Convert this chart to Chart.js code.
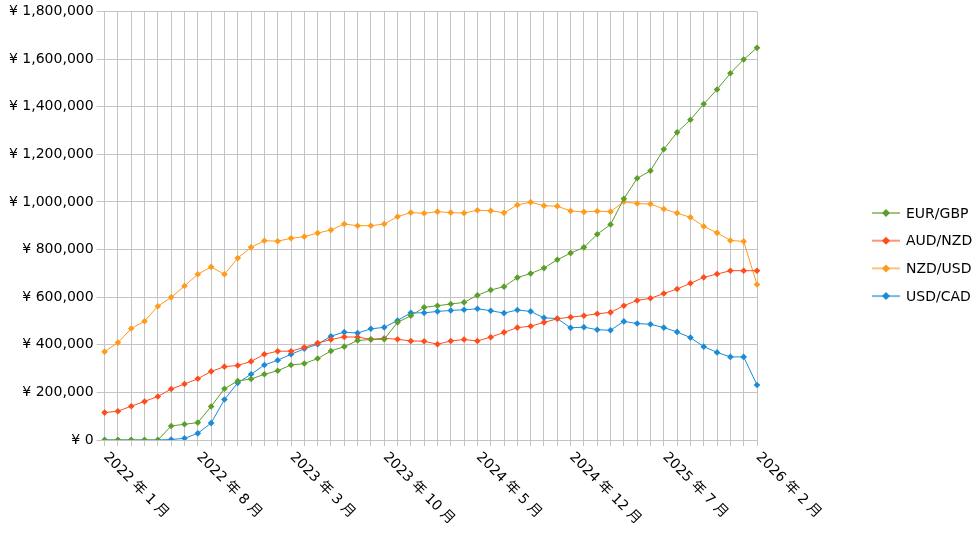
<!DOCTYPE html>
<html>
<head>
<meta charset="utf-8">
<script src="https://cdn.jsdelivr.net/npm/chart.js@4"></script>
<style>
  html, body { margin: 0; padding: 0; background: #fff; }
  #wrap { width: 980px; height: 535px; }
</style>
</head>
<body>
<div id="wrap"><canvas id="chart" width="980" height="535"></canvas></div>
<script>
// Chart data
const months = [
  "2022 年 1 月", "2022 年 2 月", "2022 年 3 月", "2022 年 4 月", "2022 年 5 月", "2022 年 6 月",
  "2022 年 7 月", "2022 年 8 月", "2022 年 9 月", "2022 年 10 月", "2022 年 11 月", "2022 年 12 月",
  "2023 年 1 月", "2023 年 2 月", "2023 年 3 月", "2023 年 4 月", "2023 年 5 月", "2023 年 6 月",
  "2023 年 7 月", "2023 年 8 月", "2023 年 9 月", "2023 年 10 月", "2023 年 11 月", "2023 年 12 月",
  "2024 年 1 月", "2024 年 2 月", "2024 年 3 月", "2024 年 4 月", "2024 年 5 月", "2024 年 6 月",
  "2024 年 7 月", "2024 年 8 月", "2024 年 9 月", "2024 年 10 月", "2024 年 11 月", "2024 年 12 月",
  "2025 年 1 月", "2025 年 2 月", "2025 年 3 月", "2025 年 4 月", "2025 年 5 月", "2025 年 6 月",
  "2025 年 7 月", "2025 年 8 月", "2025 年 9 月", "2025 年 10 月", "2025 年 11 月", "2025 年 12 月",
  "2026 年 1 月", "2026 年 2 月",
];

// labels shown under the x axis
const tickLabels = [
  "2022 年 1 月", "2022 年 8 月", "2023 年 3 月", "2023 年 10 月",
  "2024 年 5 月", "2024 年 12 月", "2025 年 7 月", "2026 年 2 月",
];

const eurGbp = [
  0, 0, 0, 0, 0, 59000, 66000, 73000, 141000, 215000,
  248000, 256000, 276000, 291000, 315000, 321000, 342000, 374000, 392000, 418000,
  422000, 423000, 494000, 522000, 557000, 564000, 571000, 578000, 608000, 630000,
  644000, 682000, 699000, 722000, 757000, 785000, 809000, 864000, 905000, 1013000,
  1099000, 1131000, 1221000, 1292000, 1345000, 1411000, 1472000, 1540000, 1598000, 1647000,
];

const audNzd = [
  115000, 121000, 142000, 162000, 183000, 214000, 235000, 257000, 288000, 308000,
  313000, 330000, 360000, 373000, 373000, 389000, 407000, 422000, 433000, 432000,
  423000, 427000, 423000, 416000, 415000, 402000, 416000, 422000, 416000, 432000,
  452000, 472000, 478000, 494000, 509000, 516000, 522000, 530000, 536000, 564000,
  586000, 595000, 615000, 634000, 658000, 683000, 697000, 711000, 711000, 711000,
];

const nzdUsd = [
  371000, 409000, 468000, 499000, 562000, 599000, 647000, 696000, 727000, 696000,
  764000, 809000, 837000, 835000, 847000, 854000, 869000, 882000, 907000, 900000,
  900000, 907000, 938000, 955000, 952000, 959000, 955000, 953000, 965000, 963000,
  954000, 987000, 999000, 984000, 982000, 962000, 958000, 961000, 959000, 1001000,
  993000, 991000, 970000, 953000, 935000, 897000, 870000, 838000, 834000, 653000,
];

const usdCad = [
  0, 0, 0, 0, 0, 2000, 7000, 28000, 71000, 170000,
  240000, 276000, 315000, 335000, 360000, 383000, 402000, 436000, 453000, 449000,
  467000, 473000, 502000, 534000, 534000, 540000, 544000, 547000, 551000, 543000,
  533000, 546000, 540000, 513000, 510000, 471000, 474000, 463000, 461000, 498000,
  489000, 486000, 472000, 454000, 430000, 392000, 368000, 349000, 349000, 231000,
];

const FONT = "'DejaVu Sans', 'Noto Sans CJK JP', sans-serif";
const FONT_SIZE = 14;
const GRID = "#c4c4c4";

function series(label, data, color) {
  return {
    label: label,
    data: data,
    borderColor: color,
    backgroundColor: color,
    borderWidth: 1,
    pointStyle: "rectRot",
    pointRadius: 3.3,
    pointBorderWidth: 0,
    pointHoverRadius: 3.3,
    tension: 0,
  };
}

/**
 * Rotated month labels, drawn top-left to bottom-right
 */
const xLabelsPlugin = {
  id: "xLabels",
  afterDraw(chart) {
    const ctx = chart.ctx;
    const xs = chart.scales.x;
    ctx.save();
    ctx.font = FONT_SIZE + "px " + FONT;
    ctx.fillStyle = "#000";
    ctx.textAlign = "left";
    ctx.textBaseline = "middle";
    months.forEach((m, i) => {
      if (!tickLabels.includes(m)) return;
      const x = xs.getPixelForValue(i);
      ctx.save();
      ctx.translate(x + 1, xs.top + 15);
      ctx.rotate(Math.PI / 4);
      ctx.fillText(m, 0, 0);
      ctx.restore();
    });
    ctx.restore();
  },
};

/**
 * Legend on the right: short line with a diamond, then the name
 */
const legendPlugin = {
  id: "sideLegend",
  afterDraw(chart) {
    const ctx = chart.ctx;
    const x0 = 872;
    let y = 213;
    ctx.save();
    ctx.font = FONT_SIZE + "px " + FONT;
    ctx.textBaseline = "middle";
    ctx.textAlign = "left";
    chart.data.datasets.forEach((ds) => {
      ctx.strokeStyle = ds.borderColor;
      ctx.lineWidth = 2;
      ctx.globalAlpha = 0.6;
      ctx.beginPath();
      ctx.moveTo(x0, y);
      ctx.lineTo(x0 + 28, y);
      ctx.stroke();
      ctx.globalAlpha = 1;
      ctx.fillStyle = ds.backgroundColor;
      ctx.beginPath();
      ctx.moveTo(x0 + 14, y - 4);
      ctx.lineTo(x0 + 18, y);
      ctx.lineTo(x0 + 14, y + 4);
      ctx.lineTo(x0 + 10, y);
      ctx.closePath();
      ctx.fill();
      ctx.fillStyle = "#000";
      ctx.fillText(ds.label, x0 + 34, y + 1);
      y += 27.7;
    });
    ctx.restore();
  },
};

new Chart(document.getElementById("chart"), {
  type: "line",
  data: {
    labels: months,
    datasets: [
      series("EUR/GBP", eurGbp, "#5b9e2a"),
      series("AUD/NZD", audNzd, "#ff4c1c"),
      series("NZD/USD", nzdUsd, "#ff9a1a"),
      series("USD/CAD", usdCad, "#1a8bd6"),
    ],
  },
  options: {
    responsive: false,
    animation: false,
    layout: {
      padding: { left: 6, right: 223, top: 3, bottom: 89 },
    },
    plugins: {
      legend: { display: false },
      tooltip: { enabled: false },
    },
    scales: {
      x: {
        grid: { color: GRID, lineWidth: 1, tickLength: 6 },
        border: { color: GRID },
        ticks: { display: false, autoSkip: false },
      },
      y: {
        min: 0,
        max: 1800000,
        grid: { color: GRID, lineWidth: 1, tickLength: 8 },
        border: { color: GRID },
        ticks: {
          stepSize: 200000,
          padding: 3,
          color: "#000",
          font: { family: FONT, size: FONT_SIZE },
          callback: (v) => "¥ " + v.toLocaleString("en-US"),
        },
      },
    },
  },
  plugins: [xLabelsPlugin, legendPlugin],
});
</script>
</body>
</html>
